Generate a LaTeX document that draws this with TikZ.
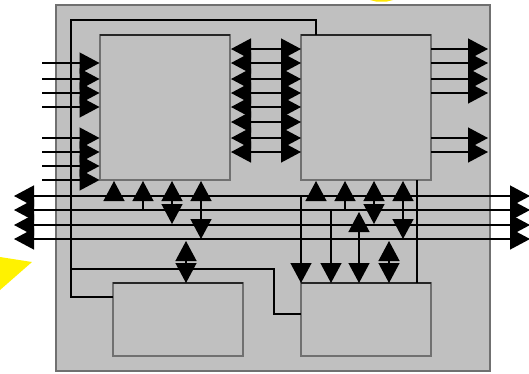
\documentclass[tikz,border=0pt]{standalone}
\usetikzlibrary{arrows.meta}
\definecolor{panel}{HTML}{C0C0C0}
\definecolor{edge}{HTML}{707070}
\tikzset{
  x=1pt,y=-1pt,
  panelbox/.style={draw=edge,fill=panel,line width=1.5pt,outer sep=0pt},
  block/.style={draw=edge,fill=panel,line width=1.5pt,outer sep=0pt,minimum width=130pt,inner sep=0pt,anchor=north west},
  bline/.style={draw=black,line width=1.3pt},
  headtip/.tip={Triangle[length=20pt,width=21pt,sep=0pt]},
  ar/.style={bline,-{headtip}},
  ra/.style={bline,{headtip}-},
  dbl/.style={bline,{headtip}-{headtip}},
  topedge/.style={draw=black!85,line width=1.3pt},
}
\begin{document}
\begin{tikzpicture}
\useasboundingbox (0,0) rectangle (529,373);
% yellow marks
\fill[yellow] (0,257) -- (32,262) -- (0,290) -- cycle;
\fill[yellow!90!orange] (370,0) -- (393,0) -- (387,1.5) -- (376,1.5) -- cycle;
% panel
\node[panelbox,minimum width=434pt,minimum height=366pt,inner sep=0pt,anchor=north west] (panel) at (56,5) {};
% blocks
\node[block,minimum height=145pt] (A) at (100,35) {};
\node[block,minimum height=145pt] (B) at (301,35) {};
\node[block,minimum height=73pt] (C) at (113,283) {};
\node[block,minimum height=73pt] (D) at (301,283) {};
\draw[topedge] (A.north west) -- (A.north east);
\draw[topedge] (B.north west) -- (B.north east);
\draw[topedge] (C.north west) -- (C.north east);
\draw[topedge] (D.north west) -- (D.north east);
% free ends
\foreach \y in {63,79,93,107,138,152,166,180} {
  \coordinate (inL\y) at (42,\y);
  \coordinate (inR\y) at (99.5,\y);
  \draw[ar] (inL\y) -- (inR\y);
}
% A-B bus
\foreach \y in {49,63,79,93,107,122,138,152} {
  \coordinate (abL\y) at (231,\y);
  \coordinate (abR\y) at (301,\y);
  \draw[dbl] (abL\y) -- (abR\y);
}
% B outputs
\foreach \y in {49,63,79,93,138,152} {
  \coordinate (oL\y) at (431,\y);
  \coordinate (oR\y) at (488,\y);
  \draw[ar] (oL\y) -- (oR\y);
}
% horizontal bus
\foreach \y in {196,210,225,239} {
  \coordinate (hL\y) at (14,\y);
  \coordinate (hR\y) at (530,\y);
  \draw[dbl] (hL\y) -- (hR\y);
}
% control wires
\coordinate (w1) at (71,20);
\coordinate (w2) at (316,20);
\coordinate (w3) at (71,297);
\draw[bline] (C.north west |- w3) -- (w3) -- (w1) -- (w2) -- (w2 |- B.north);
\coordinate (w4) at (71,269);
\coordinate (w5) at (274,269);
\coordinate (w6) at (274,314);
\draw[bline] (w4) -- (w5) -- (w6) -- (D.west |- w6);
\coordinate (w7) at (417,180);
\coordinate (w8) at (417,283);
\draw[bline] (w7) -- (w8);
% A bottom
\coordinate (a1) at (114,181); \coordinate (a1b) at (114,196);
\coordinate (a2) at (143,181); \coordinate (a2b) at (143,210);
\coordinate (a3) at (172,181); \coordinate (a3b) at (172,224);
\coordinate (a4) at (201,181); \coordinate (a4b) at (201,239);
\draw[ra] (a1) -- (a1b);
\draw[ra] (a2) -- (a2b);
\draw[dbl] (a3) -- (a3b);
\draw[dbl] (a4) -- (a4b);
% C top
\coordinate (c1) at (186,241); \coordinate (c2) at (186,283);
\draw[dbl] (c1) -- (c2);
% B bottom
\coordinate (b1) at (316,181); \coordinate (b1b) at (316,196);
\coordinate (b2) at (345,181); \coordinate (b2b) at (345,210);
\coordinate (b3) at (374,181); \coordinate (b3b) at (374,224);
\coordinate (b4) at (403,181); \coordinate (b4b) at (403,239);
\draw[ra] (b1) -- (b1b);
\draw[ra] (b2) -- (b2b);
\draw[dbl] (b3) -- (b3b);
\draw[dbl] (b4) -- (b4b);
% D top
\coordinate (d1) at (301,196); \coordinate (d1b) at (301,283);
\coordinate (d2) at (331,210); \coordinate (d2b) at (331,283);
\coordinate (d3) at (359,212); \coordinate (d3b) at (359,283);
\coordinate (d4) at (389,241); \coordinate (d4b) at (389,283);
\draw[ar] (d1) -- (d1b);
\draw[ar] (d2) -- (d2b);
\draw[dbl] (d3) -- (d3b);
\draw[dbl] (d4) -- (d4b);
\end{tikzpicture}
\end{document}
